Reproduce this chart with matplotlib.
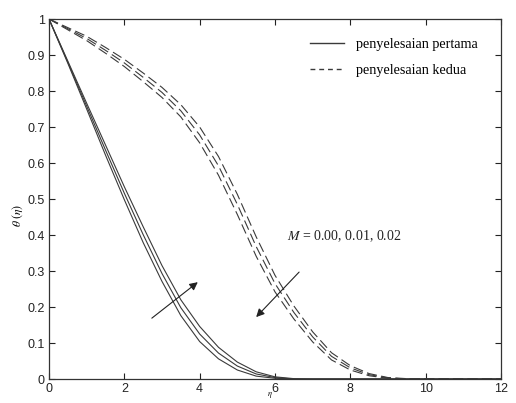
"""
Profil suhu theta(eta) untuk dua penyelesaian, M = 0.00, 0.01, 0.02
"""
import numpy as np
import matplotlib
matplotlib.use('Agg')
import matplotlib.pyplot as plt

# ==========================================
# DATA
# ==========================================
eta = [0, 0.5, 1.0, 1.5, 2.0, 2.5, 3.0, 3.5, 4.0, 4.5, 5.0, 5.5, 6.0, 6.5,
       7.0, 7.5, 8.0, 8.5, 9.0, 9.5, 10.0, 11.0, 12.0]

# penyelesaian pertama (solid), M = 0.00, 0.01, 0.02
first_m000 = [1.0, 0.877, 0.750, 0.622, 0.498, 0.379, 0.271, 0.176, 0.104, 0.056,
              0.025, 0.008, 0.002, 0, 0, 0, 0, 0, 0, 0, 0, 0, 0]
first_m001 = [1.0, 0.880, 0.758, 0.636, 0.516, 0.401, 0.293, 0.198, 0.125, 0.072,
              0.036, 0.014, 0.004, 0, 0, 0, 0, 0, 0, 0, 0, 0, 0]
first_m002 = [1.0, 0.883, 0.766, 0.650, 0.534, 0.423, 0.315, 0.220, 0.146, 0.088,
              0.047, 0.020, 0.006, 0.001, 0, 0, 0, 0, 0, 0, 0, 0, 0]

# penyelesaian kedua (dashed), M = 0.00, 0.01, 0.02
second_m000 = [1.0, 0.976, 0.952, 0.921, 0.888, 0.850, 0.810, 0.762, 0.700, 0.618,
               0.513, 0.395, 0.288, 0.203, 0.131, 0.073, 0.037, 0.015, 0.004, 0.001,
               0, 0, 0]
second_m001 = [1.0, 0.973, 0.946, 0.913, 0.878, 0.838, 0.796, 0.745, 0.678, 0.592,
               0.485, 0.368, 0.265, 0.185, 0.117, 0.063, 0.031, 0.012, 0.003, 0,
               0, 0, 0]
second_m002 = [1.0, 0.970, 0.940, 0.905, 0.868, 0.826, 0.782, 0.728, 0.656, 0.566,
               0.457, 0.341, 0.242, 0.167, 0.103, 0.053, 0.025, 0.009, 0.002, 0,
               0, 0, 0]

x_ticks = [0, 2, 4, 6, 8, 10, 12]
y_ticks = [0, 0.1, 0.2, 0.3, 0.4, 0.5, 0.6, 0.7, 0.8, 0.9, 1]
y_tick_labels = ['0', '0.1', '0.2', '0.3', '0.4', '0.5', '0.6', '0.7', '0.8', '0.9', '1']

# ==========================================
# PLOT
# ==========================================
plt.rcParams['mathtext.fontset'] = 'stix'
LINE_COLOR = '#3a3a3a'

fig = plt.figure(figsize=(5.16, 4.03), dpi=100)
ax = fig.add_axes([49 / 516, 1 - 379 / 403, 452 / 516, 360 / 403])

for i, th in enumerate([first_m000, first_m001, first_m002]):
    ax.plot(eta, th, color=LINE_COLOR, lw=0.8,
            label='penyelesaian pertama' if i == 0 else None)
for i, th in enumerate([second_m000, second_m001, second_m002]):
    ax.plot(eta, th, color=LINE_COLOR, lw=0.8, linestyle=(0, (9, 4)),
            label='penyelesaian kedua' if i == 0 else None)

# arrows showing increasing M
ax.annotate('', xy=(3.95, 0.269), xytext=(2.73, 0.169),
            arrowprops=dict(arrowstyle='-|>', color='#222222', lw=0.8,
                            mutation_scale=12, shrinkA=0, shrinkB=0))
ax.annotate('', xy=(5.5, 0.172), xytext=(6.64, 0.297),
            arrowprops=dict(arrowstyle='-|>', color='#222222', lw=0.8,
                            mutation_scale=12, shrinkA=0, shrinkB=0))
ax.text(6.32, 0.397, r'$M$ = 0.00, 0.01, 0.02', fontsize=10,
        family='Liberation Serif', va='center', ha='left', color='#222222')

ax.set_xlim(0, 12)
ax.set_ylim(0, 1)
ax.set_xticks(x_ticks)
ax.set_yticks(y_ticks)
ax.set_yticklabels(y_tick_labels)
ax.tick_params(direction='in', top=True, right=True, length=4, width=0.8,
               labelsize=9, colors='#222222', pad=3)
for lbl in ax.get_xticklabels() + ax.get_yticklabels():
    lbl.set_family('Liberation Sans')
for sp in ax.spines.values():
    sp.set_color('#333333')
    sp.set_linewidth(0.9)

ax.set_ylabel(r'$\theta\ (\eta)$', fontsize=8.5)
ax.yaxis.set_label_coords(-0.053, 0.455)
ax.set_xlabel(r'$\eta$', fontsize=6, va='center')
ax.xaxis.set_label_coords(0.489, -0.045)

leg = ax.legend(loc='upper left', frameon=False,
                prop={'family': 'Liberation Serif', 'size': 10.2},
                handlelength=2.45, handletextpad=0.8, borderaxespad=0,
                bbox_to_anchor=(0.564, 0.964), labelspacing=0.96)
for h in leg.get_lines():
    h.set_linewidth(1.0)
leg.get_lines()[1].set_linestyle((0, (3.5, 2.8)))

fig.savefig('out.png', dpi=100)
